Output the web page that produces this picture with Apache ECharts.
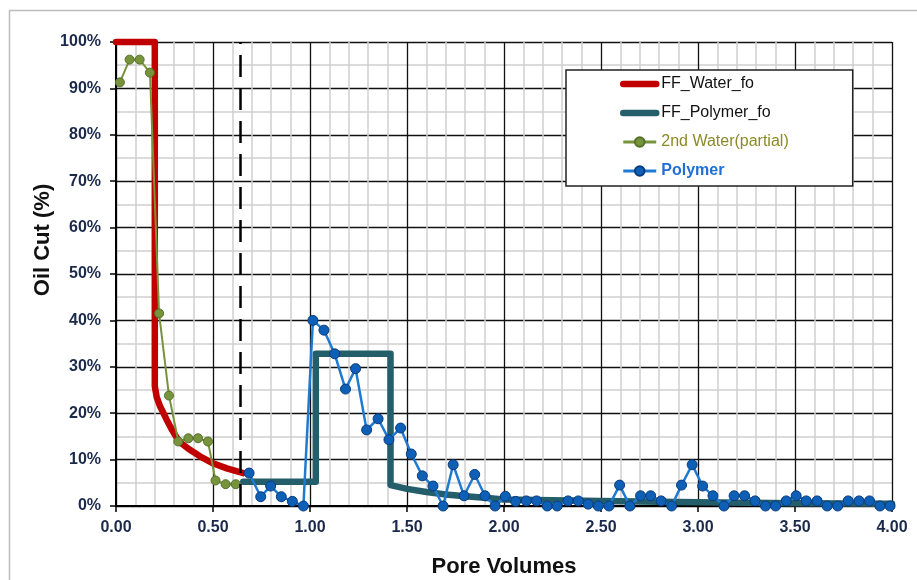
<!DOCTYPE html>
<html>
<head>
<meta charset="utf-8">
<script src="https://cdn.jsdelivr.net/npm/echarts@6/dist/echarts.min.js"></script>
<style>
  html, body { margin: 0; padding: 0; background: #fff; }
  #chart { width: 917px; height: 580px; }
</style>
</head>
<body>
<div id="chart"></div>
<script>
// Fractional-flow model curves (pore volumes vs oil cut %)
const waterFoX = [0, 0.2, 0.2, 0.21, 0.227, 0.245, 0.261, 0.29, 0.325, 0.381, 0.433, 0.5, 0.571, 0.656];
const waterFoY = [100, 100, 25.8, 23.4, 21.5, 20, 18.6, 16.3, 13.9, 12.1, 10.7, 9.2, 8.1, 7.1];

const polymerFoX = [0.656, 1.03, 1.03, 1.415, 1.415, 1.5, 1.6, 1.7, 1.8, 1.9, 2.0, 2.5, 3.0, 3.5, 4.0];
const polymerFoY = [5.2, 5.2, 32.8, 32.8, 4.5, 3.7, 3.0, 2.5, 2.1, 1.8, 1.4, 1.1, 0.8, 0.6, 0.5];

// Measured secondary waterflood (partial)
const waterX = [0.02, 0.07, 0.122, 0.175, 0.222, 0.273, 0.321, 0.373, 0.423, 0.474, 0.513, 0.565, 0.617];
const waterY = [91.3, 96.2, 96.2, 93.4, 41.5, 23.8, 13.9, 14.6, 14.6, 13.9, 5.5, 4.7, 4.7];

// Measured polymer flood
const polymerX = [0.686, 0.746, 0.797, 0.852, 0.909, 0.966, 1.015, 1.072, 1.127, 1.183,
  1.235, 1.292, 1.351, 1.407, 1.467, 1.522, 1.579, 1.634, 1.686, 1.738,
  1.794, 1.849, 1.902, 1.954, 2.007, 2.06, 2.115, 2.168, 2.223, 2.274,
  2.33, 2.383, 2.434, 2.486, 2.541, 2.596, 2.649, 2.704, 2.756, 2.81,
  2.864, 2.915, 2.97, 3.024, 3.077, 3.134, 3.186, 3.24, 3.294, 3.348,
  3.4, 3.455, 3.506, 3.558, 3.614, 3.666, 3.72, 3.774, 3.83, 3.884,
  3.938, 3.99];
const polymerY = [7.1, 2.0, 4.3, 2.0, 1.0, 0, 40, 37.9, 32.8, 25.2,
  29.6, 16.4, 18.8, 14.3, 16.8, 11.2, 6.5, 4.3, 0, 8.9,
  2.2, 6.8, 2.2, 0, 2.1, 1.0, 1.1, 1.1, 0, 0,
  1.1, 1.1, 0.4, 0, 0, 4.5, 0, 2.2, 2.2, 1.1,
  0, 4.5, 8.9, 4.3, 2.2, 0, 2.2, 2.2, 1.1, 0,
  0, 1.1, 2.2, 1.1, 1.1, 0, 0, 1.1, 1.1, 1.1,
  0, 0];

// Start of polymer injection
const polymerStartPV = 0.64;

const seriesNames = ['FF_Water_fo', 'FF_Polymer_fo', '2nd Water(partial)', 'Polymer'];

const pairs = (xs, ys) => xs.map((x, i) => [x, ys[i]]);

const FONT = '"Liberation Sans", Arial, sans-serif';
const labelColor = '#1b2a4a';

const chart = echarts.init(document.getElementById('chart'), null, { renderer: 'canvas' });

chart.setOption({
  animation: false,
  backgroundColor: '#ffffff',
  grid: {
    left: 116, right: 25, top: 42, bottom: 74,
    containLabel: false, outerBoundsMode: 'none'
  },
  graphic: [
    {
      type: 'rect', z: -10, silent: true,
      shape: { x: 9.5, y: 10.5, width: 1000, height: 1000 },
      style: { fill: 'none', stroke: '#bdbdbd', lineWidth: 1.5 }
    },
    {
      type: 'text', x: 43, y: 240, rotation: Math.PI / 2,
      style: {
        text: 'Oil Cut (%)', font: 'bold 22px ' + FONT, fill: '#111',
        textAlign: 'center', textVerticalAlign: 'middle'
      }
    }
  ],
  legend: {
    orient: 'vertical', left: 566, top: 70,
    padding: [5, 64, 6, 54],
    backgroundColor: '#ffffff', borderColor: '#222', borderWidth: 1.5,
    itemWidth: 33, itemHeight: 12, itemGap: 11,
    textStyle: { fontFamily: FONT, fontSize: 16, lineHeight: 18 },
    data: [
      {
        name: seriesNames[0], textStyle: { color: '#111' },
        lineStyle: { width: 6.5, cap: 'round' }, itemStyle: { opacity: 0 }
      },
      {
        name: seriesNames[1], textStyle: { color: '#111' },
        lineStyle: { width: 6.5, cap: 'round' }, itemStyle: { opacity: 0 }
      },
      {
        name: seriesNames[2], textStyle: { color: '#8c8a25' },
        lineStyle: { width: 3 }
      },
      {
        name: seriesNames[3], textStyle: { color: '#1f6fd6', fontWeight: 'bold' },
        lineStyle: { width: 3 }
      }
    ]
  },
  xAxis: {
    type: 'value', min: 0, max: 4, interval: 0.5,
    name: 'Pore Volumes', nameLocation: 'middle', nameGap: 50,
    nameTextStyle: { fontFamily: FONT, fontSize: 22, fontWeight: 'bold', color: '#111' },
    axisLine: { show: true, onZero: false, lineStyle: { color: '#000', width: 2 } },
    axisTick: { show: true, length: 6, lineStyle: { color: '#000', width: 1.5 } },
    axisLabel: {
      margin: 14, color: labelColor, fontFamily: FONT, fontSize: 16, fontWeight: 'bold',
      formatter: v => v.toFixed(2)
    },
    splitLine: { show: true, lineStyle: { color: '#111', width: 1.3 } },
    minorTick: { show: false, splitNumber: 5 },
    minorSplitLine: { show: true, lineStyle: { color: '#cfcfcf', width: 1.5 } }
  },
  yAxis: {
    type: 'value', min: 0, max: 100, interval: 10,
    axisLine: { show: true, lineStyle: { color: '#000', width: 2 } },
    axisTick: { show: true, length: 6, lineStyle: { color: '#000', width: 1.5 } },
    axisLabel: {
      margin: 15, color: labelColor, fontFamily: FONT, fontSize: 16, fontWeight: 'bold',
      formatter: '{value}%'
    },
    splitLine: { show: true, lineStyle: { color: '#111', width: 1.3 } },
    minorTick: { show: false, splitNumber: 2 },
    minorSplitLine: { show: true, lineStyle: { color: '#cfcfcf', width: 1.5 } }
  },
  series: [
    {
      name: seriesNames[0], type: 'line', clip: false,
      data: pairs(waterFoX, waterFoY),
      showSymbol: false, symbol: 'none',
      lineStyle: { color: '#c00000', width: 6.5, cap: 'round', join: 'round' },
      itemStyle: { color: '#c00000' },
      markLine: {
        silent: true, symbol: 'none', label: { show: false },
        lineStyle: { color: '#000', width: 2.5, type: [22, 11] },
        data: [{ xAxis: polymerStartPV }]
      }
    },
    {
      name: seriesNames[1], type: 'line', clip: false,
      data: pairs(polymerFoX, polymerFoY),
      showSymbol: false, symbol: 'none',
      lineStyle: { color: '#255e6b', width: 6.5, cap: 'round', join: 'round' },
      itemStyle: { color: '#255e6b' }
    },
    {
      name: seriesNames[2], type: 'line', clip: false,
      data: pairs(waterX, waterY),
      symbol: 'circle', symbolSize: 9,
      lineStyle: { color: '#77933c', width: 2 },
      itemStyle: { color: '#77933c', borderColor: '#55702a', borderWidth: 1 }
    },
    {
      name: seriesNames[3], type: 'line', clip: false,
      data: pairs(polymerX, polymerY),
      symbol: 'circle', symbolSize: 10,
      lineStyle: { color: '#1f7ad2', width: 2.5 },
      itemStyle: { color: '#0d60b6', borderColor: '#0a3b7e', borderWidth: 1 }
    }
  ]
});
</script>
</body>
</html>
